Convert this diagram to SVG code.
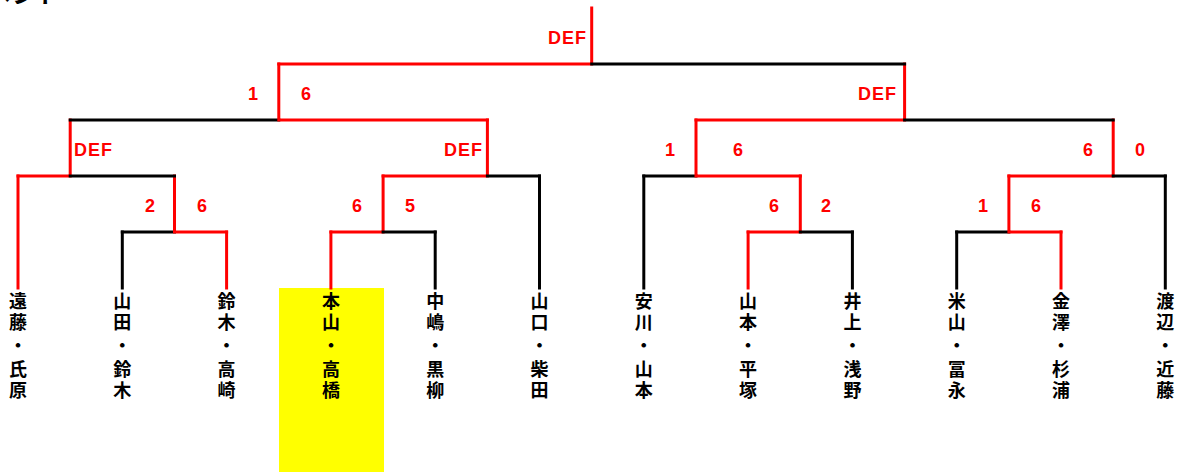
<svg xmlns="http://www.w3.org/2000/svg" width="1184" height="472" viewBox="0 0 1184 472">
<style>
.r{stroke:#FF0000;stroke-width:3;fill:none;stroke-linecap:square}
.k{stroke:#000000;stroke-width:3;fill:none;stroke-linecap:square}
.s{font-family:"Liberation Sans",Arial,sans-serif;font-weight:bold;font-size:18px;fill:#FF0000;text-anchor:middle}
.d{font-family:"Liberation Sans",Arial,sans-serif;font-weight:bold;font-size:18px;fill:#FF0000;letter-spacing:1px}
.n{font-family:"Noto Sans CJK JP","Noto Sans CJK SC",sans-serif;font-weight:bold;font-size:18px;fill:#000000;text-anchor:middle}
.t{font-family:"Noto Sans CJK JP",sans-serif;font-weight:bold;font-size:24px;fill:#000000;text-anchor:end}
</style>
<rect x="279" y="288" width="105" height="184" fill="#FFFF00"/>
<text class="t" x="60" y="3">トーナメント</text>
<g id="connectors">
<path class="r" d="M18,176V288"/>
<path class="k" d="M122.3,232V288"/>
<path class="r" d="M226.6,232V288"/>
<path class="r" d="M330.9,232V288"/>
<path class="k" d="M435.2,232V288"/>
<path class="k" d="M539.5,176V288"/>
<path class="k" d="M643.8,176V288"/>
<path class="r" d="M748.1,232V288"/>
<path class="k" d="M852.4,232V288"/>
<path class="k" d="M956.7,232V288"/>
<path class="r" d="M1061,232V288"/>
<path class="k" d="M1165.3,176V288"/>
<path class="k" d="M122.3,232H174.5"/>
<path class="r" d="M174.5,232H226.6M174.5,176V232"/>
<path class="r" d="M18,176H70.2M70.2,120V176"/>
<path class="k" d="M70.2,176H174.5"/>
<path class="r" d="M330.9,232H383.1M383.1,176V232"/>
<path class="k" d="M383.1,232H435.2"/>
<path class="r" d="M383.1,176H487.4M487.4,120V176"/>
<path class="k" d="M487.4,176H539.5"/>
<path class="k" d="M70.2,120H278.8"/>
<path class="r" d="M278.8,120H487.4M278.8,64V120"/>
<path class="r" d="M748.1,232H800.3M800.3,176V232"/>
<path class="k" d="M800.3,232H852.4"/>
<path class="k" d="M643.8,176H696"/>
<path class="r" d="M696,176H800.3M696,120V176"/>
<path class="k" d="M956.7,232H1008.9"/>
<path class="r" d="M1008.9,232H1061M1008.9,176V232"/>
<path class="r" d="M1008.9,176H1113.2M1113.2,120V176"/>
<path class="k" d="M1113.2,176H1165.3"/>
<path class="r" d="M696,120H904.6M904.6,64V120"/>
<path class="k" d="M904.6,120H1113.2"/>
<path class="r" d="M278.8,64H591.7M591.7,8V64"/>
<path class="k" d="M591.7,64H904.6"/>
</g>
<g id="scores">
<text class="s" x="150" y="212">2</text><text class="s" x="202" y="212">6</text>
<text class="d" x="74" y="156">DEF</text>
<text class="s" x="357" y="212">6</text><text class="s" x="410" y="212">5</text>
<text class="d" x="483" y="156" text-anchor="end">DEF</text>
<text class="s" x="253" y="100">1</text><text class="s" x="306" y="100">6</text>
<text class="s" x="774" y="212">6</text><text class="s" x="826" y="212">2</text>
<text class="s" x="670" y="156">1</text><text class="s" x="738" y="156">6</text>
<text class="s" x="983" y="212">1</text><text class="s" x="1036" y="212">6</text>
<text class="s" x="1088" y="156">6</text><text class="s" x="1140" y="156">0</text>
<text class="d" x="897" y="100" text-anchor="end">DEF</text>
<text class="d" x="587" y="44" text-anchor="end">DEF</text>
</g>
<g id="p1"><text class="n" x="18"><tspan x="18" y="308">遠</tspan><tspan x="18" y="329">藤</tspan><tspan x="18" y="352">・</tspan><tspan x="18" y="376">氏</tspan><tspan x="18" y="397">原</tspan></text></g>
<g id="p2"><text class="n" x="122.3"><tspan x="122.3" y="308">山</tspan><tspan x="122.3" y="329">田</tspan><tspan x="122.3" y="352">・</tspan><tspan x="122.3" y="376">鈴</tspan><tspan x="122.3" y="397">木</tspan></text></g>
<g id="p3"><text class="n" x="226.6"><tspan x="226.6" y="308">鈴</tspan><tspan x="226.6" y="329">木</tspan><tspan x="226.6" y="352">・</tspan><tspan x="226.6" y="376">高</tspan><tspan x="226.6" y="397">崎</tspan></text></g>
<g id="p4"><text class="n" x="330.9"><tspan x="330.9" y="308">本</tspan><tspan x="330.9" y="329">山</tspan><tspan x="330.9" y="352">・</tspan><tspan x="330.9" y="376">高</tspan><tspan x="330.9" y="397">橋</tspan></text></g>
<g id="p5"><text class="n" x="435.2"><tspan x="435.2" y="308">中</tspan><tspan x="435.2" y="329">嶋</tspan><tspan x="435.2" y="352">・</tspan><tspan x="435.2" y="376">黒</tspan><tspan x="435.2" y="397">柳</tspan></text></g>
<g id="p6"><text class="n" x="539.5"><tspan x="539.5" y="308">山</tspan><tspan x="539.5" y="329">口</tspan><tspan x="539.5" y="352">・</tspan><tspan x="539.5" y="376">柴</tspan><tspan x="539.5" y="397">田</tspan></text></g>
<g id="p7"><text class="n" x="643.8"><tspan x="643.8" y="308">安</tspan><tspan x="643.8" y="329">川</tspan><tspan x="643.8" y="352">・</tspan><tspan x="643.8" y="376">山</tspan><tspan x="643.8" y="397">本</tspan></text></g>
<g id="p8"><text class="n" x="748.1"><tspan x="748.1" y="308">山</tspan><tspan x="748.1" y="329">本</tspan><tspan x="748.1" y="352">・</tspan><tspan x="748.1" y="376">平</tspan><tspan x="748.1" y="397">塚</tspan></text></g>
<g id="p9"><text class="n" x="852.4"><tspan x="852.4" y="308">井</tspan><tspan x="852.4" y="329">上</tspan><tspan x="852.4" y="352">・</tspan><tspan x="852.4" y="376">浅</tspan><tspan x="852.4" y="397">野</tspan></text></g>
<g id="p10"><text class="n" x="956.7"><tspan x="956.7" y="308">米</tspan><tspan x="956.7" y="329">山</tspan><tspan x="956.7" y="352">・</tspan><tspan x="956.7" y="376">冨</tspan><tspan x="956.7" y="397">永</tspan></text></g>
<g id="p11"><text class="n" x="1061"><tspan x="1061" y="308">金</tspan><tspan x="1061" y="329">澤</tspan><tspan x="1061" y="352">・</tspan><tspan x="1061" y="376">杉</tspan><tspan x="1061" y="397">浦</tspan></text></g>
<g id="p12"><text class="n" x="1165.3"><tspan x="1165.3" y="308">渡</tspan><tspan x="1165.3" y="329">辺</tspan><tspan x="1165.3" y="352">・</tspan><tspan x="1165.3" y="376">近</tspan><tspan x="1165.3" y="397">藤</tspan></text></g>
</svg>
